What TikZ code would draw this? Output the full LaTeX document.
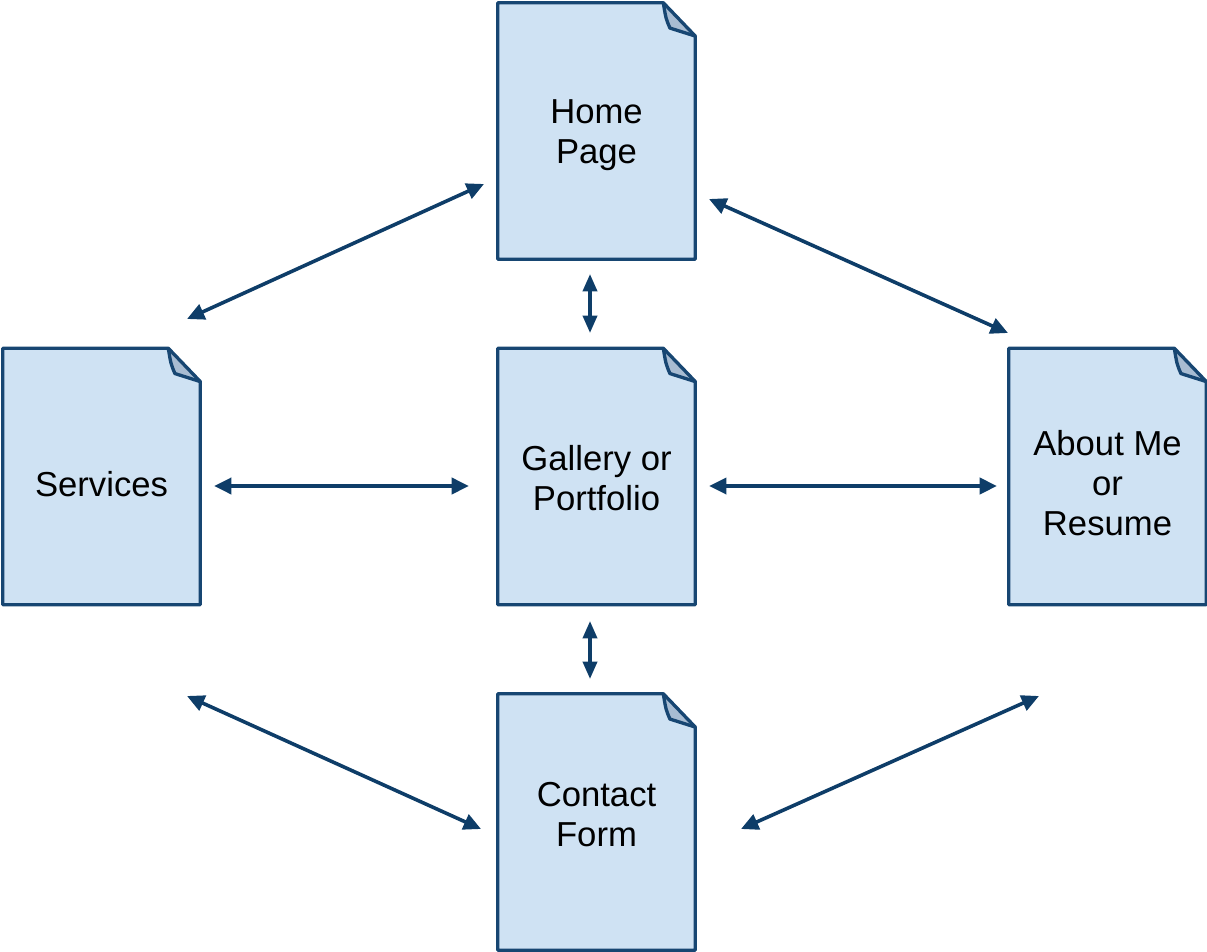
\documentclass[tikz,border=0pt]{standalone}
\usepackage{fontspec}
\setmainfont{Liberation Sans}
\usetikzlibrary{arrows.meta,backgrounds,calc}
\definecolor{docline}{HTML}{174672}
\definecolor{docfill}{HTML}{CFE2F3}
\definecolor{foldfill}{HTML}{A8BCD2}
\definecolor{arrowcol}{HTML}{0E3D68}
\tikzset{
  docnode/.style={minimum width=147.75pt, minimum height=192pt, inner sep=0pt},
  doctext/.style={align=center, inner sep=0pt, font=\fontsize{26}{30}\selectfont},
  docedge/.style={draw=docline, line width=2.5pt, line join=round},
  link/.style={draw=arrowcol, line width=2.7pt,
    {Triangle[length=13pt,width=12pt]}-{Triangle[length=13pt,width=12pt]}},
  shortlink/.style={draw=arrowcol, line width=2.7pt,
    {Triangle[length=13pt,width=10.5pt]}-{Triangle[length=13pt,width=10.5pt]}}
}
\newcommand{\mydoc}[1]{%
  \fill[docfill] (#1.south west) -- (#1.north west) -- ([xshift=-24pt]#1.north east)
     -- ([yshift=-25pt]#1.north east) -- (#1.south east) -- cycle;
  \fill[foldfill] ([xshift=-24pt]#1.north east) .. controls ([xshift=-22pt,yshift=-12pt]#1.north east) .. ([xshift=-19pt,yshift=-19pt]#1.north east)
     -- ([yshift=-25pt]#1.north east) -- cycle;
  \draw[docedge] ([xshift=-24pt]#1.north east) .. controls ([xshift=-22pt,yshift=-12pt]#1.north east) .. ([xshift=-19pt,yshift=-19pt]#1.north east)
     -- ([yshift=-25pt]#1.north east);
  \draw[docedge] (#1.south west) -- (#1.north west) -- ([xshift=-24pt]#1.north east)
     -- ([yshift=-25pt]#1.north east) -- (#1.south east) -- cycle;
}
\begin{document}
\begin{tikzpicture}[x=0.75pt,y=-0.75pt]
\useasboundingbox (0,0) rectangle (1207,952);
\node[docnode] (home) at (596.5,131) {};
\node[docnode] (services) at (101.5,476.5) {};
\node[docnode] (gallery) at (596.5,476.5) {};
\node[docnode] (about) at (1107.5,476.5) {};
\node[docnode] (contact) at (596.5,822) {};
\mydoc{home}\mydoc{services}\mydoc{gallery}\mydoc{about}\mydoc{contact}
\node[doctext] (hometext) at (596.5,135) {Home\\Page};
\node[doctext] (servicestext) at (101.5,484) {Services};
\node[doctext] (gallerytext) at (596.5,478) {Gallery or\\Portfolio};
\node[doctext] (abouttext) at (1107.5,483) {About Me\\or\\Resume};
\node[doctext] (contacttext) at (596.5,815) {Contact\\Form};
% arrow end points
\coordinate (hs1) at (187,319);
\coordinate (hs2) at (484,184);
\coordinate (ha1) at (709,199);
\coordinate (ha2) at (1008,333);
\coordinate (hg1) at (590,274);
\coordinate (hg2) at (590,333);
\coordinate (gc1) at (590,621);
\coordinate (gc2) at (590,679);
\coordinate (sg1) at (214,486);
\coordinate (sg2) at (469,486);
\coordinate (ga1) at (709,486);
\coordinate (ga2) at (997,486);
\coordinate (sc1) at (187,696);
\coordinate (sc2) at (481,829);
\coordinate (ca1) at (741,829);
\coordinate (ca2) at (1039,696);
\draw[link] (hs1) -- (hs2);
\draw[link] (ha1) -- (ha2);
\draw[shortlink] (hg1) -- (hg2);
\draw[shortlink] (gc1) -- (gc2);
\draw[link] (sg1) -- (sg2);
\draw[link] (ga1) -- (ga2);
\draw[link] (sc1) -- (sc2);
\draw[link] (ca1) -- (ca2);
\end{tikzpicture}
\end{document}
